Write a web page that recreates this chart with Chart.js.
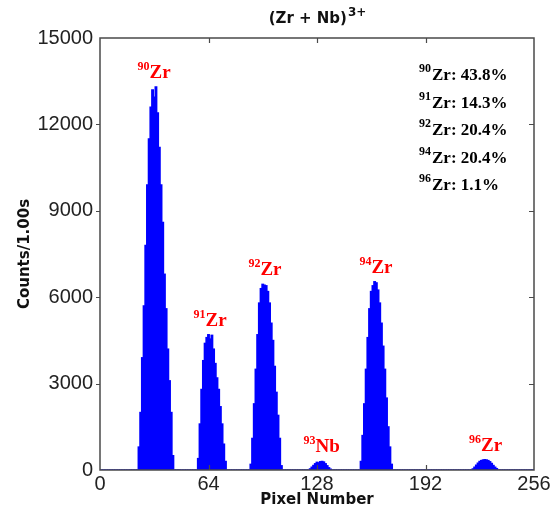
<!DOCTYPE html>
<html>
<head>
<meta charset="utf-8">
<script src="https://cdn.jsdelivr.net/npm/chart.js"></script>
<style>
    html, body { margin: 0; padding: 0; background: #ffffff; }
    #wrap { width: 554px; height: 512px; }
</style>
</head>
<body>
<div id="wrap"><canvas id="spectrum" width="554" height="512"></canvas></div>
<script>
// Axis ticks
const xTicks = [0, 64, 128, 192, 256];
const yTicks = [0, 3000, 6000, 9000, 12000, 15000];

// Peak counts per channel (first channel in peakStarts)
const zr90Counts = [800, 2000, 3900, 5700, 7800, 9900, 11500, 12600, 13200, 12950, 13300, 12400, 11200, 9900, 8600, 6800, 5600, 4200, 3100, 2000, 500];
const zr91Counts = [400, 1600, 2800, 3800, 4400, 4600, 4700, 4550, 4680, 4200, 3700, 3200, 2800, 2200, 1600, 900, 300];
const zr92Counts = [200, 1100, 2300, 3500, 4700, 5800, 6300, 6450, 6420, 6400, 6200, 5800, 5100, 4500, 3600, 2700, 1900, 1100, 150];
const nb93Counts = [40, 100, 160, 220, 270, 250, 290, 300, 280, 220, 150, 80, 30];
const zr94Counts = [300, 1200, 2300, 3500, 4600, 5600, 6200, 6400, 6540, 6500, 6250, 5800, 5100, 4300, 3500, 2500, 1500, 800, 200];
const zr96Counts = [40, 100, 170, 240, 300, 330, 350, 360, 350, 330, 290, 230, 160, 100, 50];

const peakCounts = [zr90Counts, zr91Counts, zr92Counts, nb93Counts, zr94Counts, zr96Counts];
const peakStarts = [23, 58, 89, 124, 154, 220];
const peakMasses = ["90", "91", "92", "93", "94", "96"];
const peakElements = ["Zr", "Zr", "Zr", "Nb", "Zr", "Zr"];
const peakCentres = [31.9, 64.9, 97.3, 130.7, 162.8, 227.4];

// Isotope abundance text
const abundanceMasses = ["90", "91", "92", "94", "96"];
const abundanceValues = ["43.8%", "14.3%", "20.4%", "20.4%", "1.1%"];

const channelCount = 257;

// Build channel table
const counts = new Array(channelCount).fill(0);
peakCounts.forEach((arr, p) => {
    arr.forEach((v, i) => { counts[peakStarts[p] + i] = v; });
});
const points = counts.map((v, ch) => ({ x: ch, y: v }));

const frameColor = "#4a4a4a";

function textWidths(ctx, sup, main, supFont, mainFont) {
    ctx.font = supFont;
    const w1 = ctx.measureText(sup).width;
    ctx.font = mainFont;
    const w2 = ctx.measureText(main).width;
    return { w1, w2 };
}

const decorations = {
    id: "decorations",
    afterDraw(chart) {
        const ctx = chart.ctx;
        const area = chart.chartArea;
        const xs = chart.scales.x;
        const ys = chart.scales.y;
        ctx.save();

        // frame
        ctx.strokeStyle = frameColor;
        ctx.lineWidth = 1.5;
        ctx.strokeRect(area.left, area.top, area.right - area.left, area.bottom - area.top);

        // ticks
        ctx.lineWidth = 1.2;
        ctx.beginPath();
        xTicks.slice(1, -1).forEach(v => {
            const px = Math.round(xs.getPixelForValue(v)) + 0.5;
            ctx.moveTo(px, area.bottom);
            ctx.lineTo(px, area.bottom - 5);
            ctx.moveTo(px, area.top);
            ctx.lineTo(px, area.top + 5);
        });
        yTicks.slice(1, -1).forEach(v => {
            const py = Math.round(ys.getPixelForValue(v)) + 0.5;
            ctx.moveTo(area.right, py);
            ctx.lineTo(area.right - 5, py);
            ctx.moveTo(area.left, py);
            ctx.lineTo(area.left - 4, py);
        });
        ctx.stroke();

        // title with superscript
        const tMain = "(Zr + Nb)";
        const tSup = "3+";
        ctx.fillStyle = "#111";
        ctx.textBaseline = "alphabetic";
        ctx.textAlign = "left";
        const tw = textWidths(ctx, tMain, tSup, "bold 15px 'DejaVu Sans'", "bold 12px 'DejaVu Sans'");
        const tx = (area.left + area.right) / 2 - (tw.w1 + tw.w2) / 2;
        ctx.font = "bold 15px 'DejaVu Sans'";
        ctx.fillText(tMain, tx, 23);
        ctx.font = "bold 12px 'DejaVu Sans'";
        ctx.fillText(tSup, tx + tw.w1 + 1, 16);

        // peak labels
        const supFont = "bold 12px 'Liberation Serif'";
        const mainFont = "bold 19px 'Liberation Serif'";
        ctx.fillStyle = "#ff0000";
        peakMasses.forEach((m, p) => {
            const top = ys.getPixelForValue(Math.max(...peakCounts[p]));
            const cx = xs.getPixelForValue(peakCentres[p]);
            const sizes = textWidths(ctx, m, peakElements[p], supFont, mainFont);
            const x0 = cx - (sizes.w1 + sizes.w2) / 2;
            const base = top - 9;
            ctx.font = supFont;
            ctx.fillText(m, x0, base - 8);
            ctx.font = mainFont;
            ctx.fillText(peakElements[p], x0 + sizes.w1, base);
        });

        // abundance list
        ctx.fillStyle = "#000";
        const aSup = "bold 12px 'Liberation Serif'";
        const aMain = "bold 17px 'Liberation Serif'";
        abundanceMasses.forEach((m, i) => {
            const base = 80 + i * 27.5;
            ctx.font = aSup;
            ctx.fillText(m, 419, base - 8);
            const w = ctx.measureText(m).width;
            ctx.font = aMain;
            ctx.fillText("Zr: " + abundanceValues[i], 419 + w + 1, base);
        });

        ctx.restore();
    }
};

const ctx = document.getElementById("spectrum").getContext("2d");

const spectrumChart = new Chart(ctx, {
    type: "bar",
    data: {
        datasets: [
            {
                data: points,
                backgroundColor: "#0000ff",
                borderColor: "#0000ff",
                borderWidth: 0,
                barPercentage: 1,
                categoryPercentage: 1,
                inflateAmount: 0.6
            }
        ]
    },
    options: {
        responsive: false,
        animation: false,
        devicePixelRatio: 1,
        layout: {
            padding: { top: 38, right: 20, left: 0, bottom: 0 }
        },
        plugins: {
            legend: { display: false },
            tooltip: { enabled: false }
        },
        scales: {
            x: {
                type: "linear",
                min: 0,
                max: 256,
                offset: false,
                afterBuildTicks: s => { s.ticks = xTicks.map(v => ({ value: v })); },
                afterFit: s => { s.height = 42; },
                grid: { display: false, drawTicks: false, offset: false },
                border: { display: false },
                ticks: {
                    padding: 2,
                    maxRotation: 0,
                    color: "#222",
                    font: { family: "'Liberation Sans'", size: 20 }
                },
                title: {
                    display: true,
                    text: "Pixel Number",
                    color: "#111",
                    padding: { top: 0, bottom: 3 },
                    font: { family: "'DejaVu Sans'", size: 15, weight: "bold" }
                }
            },
            y: {
                min: 0,
                max: 15000,
                afterBuildTicks: s => { s.ticks = yTicks.map(v => ({ value: v })); },
                afterFit: s => { s.width = 100; },
                grid: { display: false, drawTicks: false },
                border: { display: false },
                ticks: {
                    padding: 7,
                    color: "#222",
                    font: { family: "'Liberation Sans'", size: 20 },
                    callback: v => String(v)
                },
                title: {
                    display: true,
                    text: "Counts/1.00s",
                    color: "#111",
                    padding: { top: 16, bottom: 0 },
                    font: { family: "'DejaVu Sans'", size: 15, weight: "bold" }
                }
            }
        }
    },
    plugins: [decorations]
});
</script>
</body>
</html>
